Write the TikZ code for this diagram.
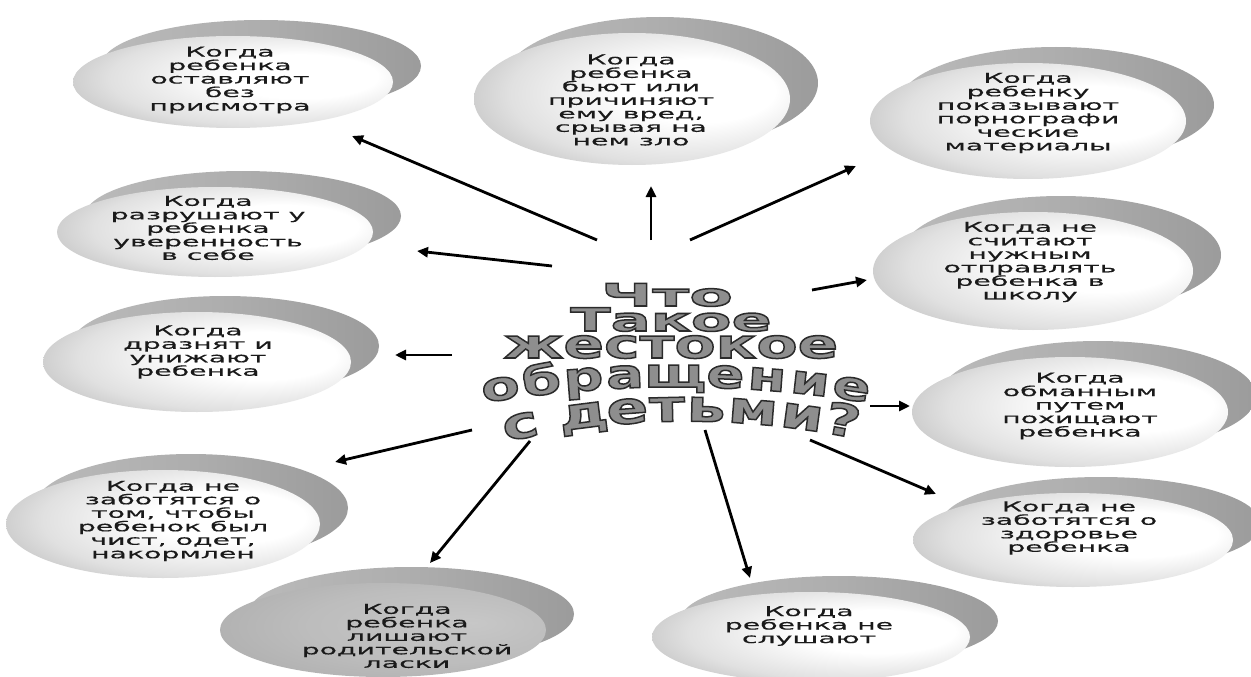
\documentclass[tikz,border=0pt]{standalone}
\usepackage{fontspec}
\setmainfont{DejaVu Sans}
\newfontfamily\bubfont{DejaVu Sans}[FakeStretch=2.1,FakeBold=0.5]
\newfontfamily\waA{DejaVu Sans}[FakeStretch=2.05]
\newfontfamily\waB{DejaVu Sans}[FakeStretch=1.85]
\newfontfamily\waC{DejaVu Sans}[FakeStretch=1.5]
\newfontfamily\waD{DejaVu Sans}[FakeStretch=1.4]
\usetikzlibrary{arrows.meta}
\definecolor{wafill}{HTML}{8E8E8E}
\definecolor{bubtxt}{HTML}{1A1A1A}
\pgfdeclareradialshading{bubfront}{\pgfpoint{14bp}{4bp}}{color(0bp)=(white);color(12bp)=(white);color(26bp)=(black!12);color(38bp)=(black!30);color(50bp)=(black!45)}
\pgfdeclareradialshading{bubdark}{\pgfpoint{14bp}{4bp}}{color(0bp)=(black!22);color(20bp)=(black!26);color(38bp)=(black!33);color(50bp)=(black!45)}
\pgfdeclarehorizontalshading{bubback}{100bp}{color(0bp)=(black!22);color(50bp)=(black!32);color(100bp)=(black!46)}
\newcommand\outl[1]{\special{pdf:literal direct 0.17 0.17 0.17 RG 1.5 w 2 Tr}#1\special{pdf:literal direct 0 Tr 0 G}}
\newcommand\mybub[8]{%
 \shade[shading=bubback] (#2+28,#3-16) ellipse[x radius=#4, y radius=#5];
 \shade[shading=#6] (#2,#3) ellipse[x radius=#4, y radius=#5];
 \node[bubtext] (#1) at (#7) {#8};}
\tikzset{
 bubtext/.style={align=center, inner sep=0pt, text=bubtxt, font=\bubfont\fontsize{13.5}{13.5}\selectfont},
 arr/.style={line width=2.8pt, -{Triangle[length=11pt,width=10pt]}},
 waline/.style={inner sep=0pt, text=wafill},
 walet/.style={inner sep=0pt, text=wafill, anchor=base, sloped},
}
\begin{document}
\begin{tikzpicture}[x=1pt,y=-1pt]
\useasboundingbox (0,0) rectangle (1251,677);
\clip (0,0) rectangle (1251,677);
\fill[white] (0,0) rectangle (1251,677);

% bubbles
\mybub{bTL}{233}{82}{160}{46}{bubfront}{230,80}{Когда\\ребенка\\оставляют\\без\\присмотра}
\mybub{bTC}{632}{99}{158}{66}{bubfront}{631,100}{Когда\\ребенка\\бьют или\\причиняют\\ему вред,\\срывая на\\нем зло}
\mybub{bTR}{1028}{121}{158}{58}{bubfront}{1028,113}{Когда\\ребенку\\показывают\\порнографи\\ческие\\материалы}
\mybub{bL2}{215}{232}{158}{45}{bubfront}{208,228}{Когда\\разрушают у\\ребенка\\уверенность\\в себе}
\mybub{bR2}{1033}{271}{160}{59}{bubfront}{1030,262}{Когда не\\считают\\нужным\\отправлять\\ребенка в\\школу}
\mybub{bL3}{197}{362}{154}{50}{bubfront}{198,352}{Когда\\дразнят и\\унижают\\ребенка}
\mybub{bR3}{1070}{412}{158}{55}{bubfront}{1080,406}{Когда\\обманным\\путем\\похищают\\ребенка}
\mybub{bL4}{163}{524}{157}{54}{bubfront}{173,521}{Когда не\\заботятся о\\том, чтобы\\ребенок был\\чист, одет,\\накормлен}
\mybub{bR4}{1073}{540}{160}{47}{bubfront}{1069,528}{Когда не\\заботятся о\\здоровье\\ребенка}
\mybub{bBL}{383}{630}{163}{47}{bubdark}{407,636}{Когда\\ребенка\\лишают\\родительской\\ласки}
\mybub{bBC}{811}{637}{159}{45}{bubfront}{809,626}{Когда\\ребенка не\\слушают}

% central word art
\node[waline, anchor=base] (w1) at (667,306) {\outl{\waA\bfseries\fontsize{31}{31}\selectfont Что}};
\node[waline, anchor=base] (w2) at (671,331) {\outl{\waB\bfseries\fontsize{32}{32}\selectfont Такое}};
\node[waline, anchor=base] (w3) at (671,358) {\outl{\waC\bfseries\fontsize{40}{40}\selectfont жестокое}};
\coordinate (a0) at (482,403); \coordinate (a1) at (611,381.7);
\coordinate (a2) at (741,381.7); \coordinate (a3) at (870,403);
\path (a0) .. controls (a1) and (a2) .. (a3)
 node[walet,pos=.052] (l1) {\outl{\waD\bfseries\fontsize{40}{40}\selectfont о}}
 node[walet,pos=.157] (l2) {\outl{\waD\bfseries\fontsize{40}{40}\selectfont б}}
 node[walet,pos=.264] (l3) {\outl{\waD\bfseries\fontsize{40}{40}\selectfont р}}
 node[walet,pos=.370] (l4) {\outl{\waD\bfseries\fontsize{40}{40}\selectfont а}}
 node[walet,pos=.498] (l5) {\outl{\waD\bfseries\fontsize{40}{40}\selectfont щ}}
 node[walet,pos=.626] (l6) {\outl{\waD\bfseries\fontsize{40}{40}\selectfont е}}
 node[walet,pos=.732] (l7) {\outl{\waD\bfseries\fontsize{40}{40}\selectfont н}}
 node[walet,pos=.842] (l8) {\outl{\waD\bfseries\fontsize{40}{40}\selectfont и}}
 node[walet,pos=.948] (l9) {\outl{\waD\bfseries\fontsize{40}{40}\selectfont е}};
\coordinate (c0) at (505,442); \coordinate (c1) at (623,415);
\coordinate (c2) at (740,415); \coordinate (c3) at (858,439);
\path (c0) .. controls (c1) and (c2) .. (c3)
 node[walet,pos=.051] (m1) {\outl{\waD\bfseries\fontsize{44}{44}\selectfont с}}
 node[walet,pos=.227] (m2) {\outl{\waD\bfseries\fontsize{44}{44}\selectfont д}}
 node[walet,pos=.349] (m3) {\outl{\waD\bfseries\fontsize{44}{44}\selectfont е}}
 node[walet,pos=.460] (m4) {\outl{\waD\bfseries\fontsize{44}{44}\selectfont т}}
 node[walet,pos=.569] (m5) {\outl{\waD\bfseries\fontsize{44}{44}\selectfont ь}}
 node[walet,pos=.700] (m6) {\outl{\waD\bfseries\fontsize{44}{44}\selectfont м}}
 node[walet,pos=.837] (m7) {\outl{\waD\bfseries\fontsize{44}{44}\selectfont и}}
 node[walet,pos=.950] (m8) {\outl{\waD\bfseries\fontsize{44}{44}\selectfont ?}};

% arrow ends
\coordinate (tTL) at (597,240); \coordinate (hTL) at (352,136);
\coordinate (tTC) at (651,240); \coordinate (hTC) at (651,186);
\coordinate (tTR) at (690,240); \coordinate (hTR) at (856,166);
\coordinate (tL2) at (552,266); \coordinate (hL2) at (417,251);
\coordinate (tR2) at (812,290); \coordinate (hR2) at (867,280);
\coordinate (tL3) at (452,355); \coordinate (hL3) at (395,355);
\coordinate (tR3) at (870,406); \coordinate (hR3) at (910,406);
\coordinate (tL4) at (472,430); \coordinate (hL4) at (335,462);
\coordinate (tR4) at (810,440); \coordinate (hR4) at (936,494);
\coordinate (tBL) at (530,441); \coordinate (hBL) at (430,563);
\coordinate (tBC) at (705,430); \coordinate (hBC) at (750,578);
\foreach \n in {TL,TC,TR,L2,R2,L3,R3,L4,R4,BL,BC}{\draw[arr,black] (t\n) -- (h\n);}
\end{tikzpicture}
\end{document}
